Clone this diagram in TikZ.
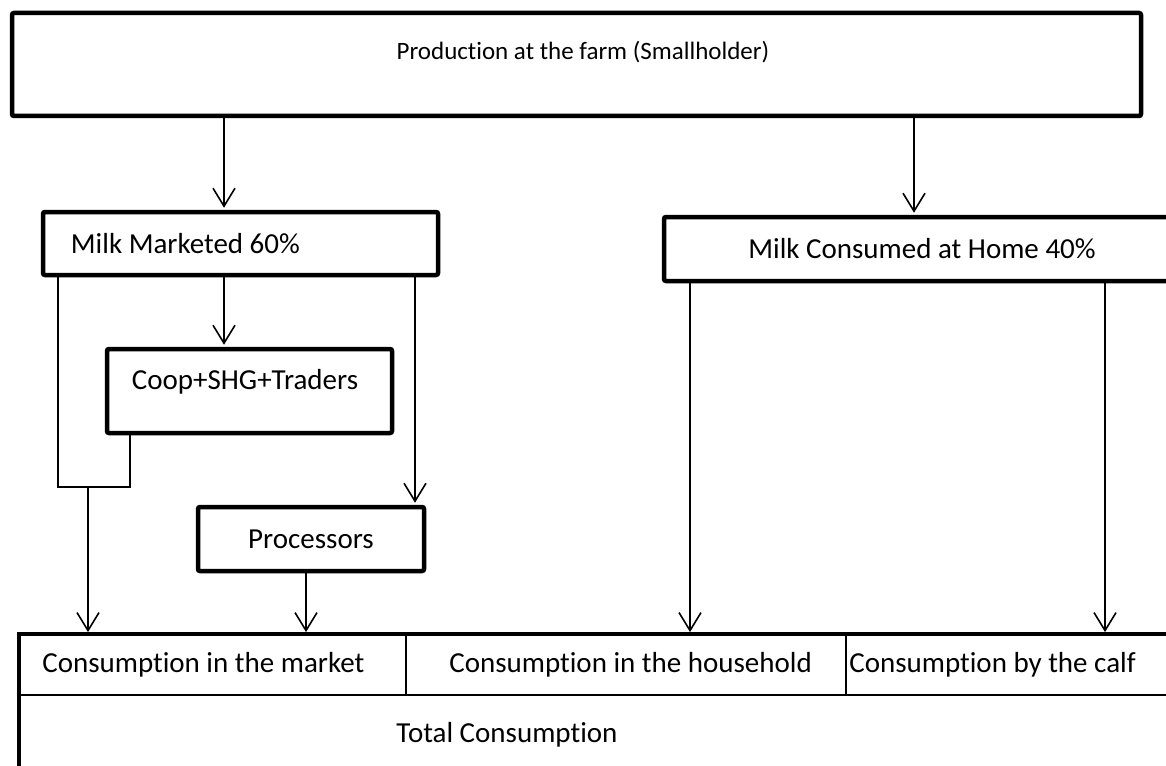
\documentclass[tikz,border=0pt]{standalone}
\usepackage{fontspec}
\setmainfont{Carlito}[Ligatures=NoCommon]
\usetikzlibrary{arrows.meta}
\tikzset{
  box/.style={draw, line width=4.5pt, rounded corners=2pt, inner sep=0pt},
  cell/.style={draw, line width=1.8pt, inner sep=0pt},
  txt/.style={inner sep=0pt},
  flow/.style={line width=1.6pt, shorten >=2pt, -{Straight Barb[length=18pt, width=22pt]}},
  link/.style={line width=1.6pt},
}
\begin{document}
\begin{tikzpicture}[x=1pt, y=-1pt, font=\fontsize{29}{35}\selectfont]
  \clip (0,0) rectangle (1166,765);
  \node[box, minimum width=1129pt, minimum height=103pt] (farm) at (576.5,64.5) {};
  \node[txt, font=\fontsize{25}{30}\selectfont] (farmlbl) at (583,52) {Production at the farm (Smallholder)};
  \node[box, minimum width=395pt, minimum height=63pt] (market) at (240.5,243.5) {};
  \node[txt, anchor=west] (marketlbl) at ([xshift=30pt]market.west) {Milk Marketed 60\%};
  \node[box, minimum width=516pt, minimum height=64pt] (home) at (922,249) {Milk Consumed at Home 40\%};
  \node[box, minimum width=285pt, minimum height=84pt] (coop) at (249.5,391) {};
  \node[txt] (cooplbl) at (245,382) {Coop+SHG+Traders};
  \node[box, minimum width=226pt, minimum height=64pt] (proc) at (311,539) {Processors};
  \node[cell, minimum width=386pt, minimum height=60pt] (cmarket) at (213,665) {};
  \node[txt, anchor=west] (cmarketlbl) at ([xshift=23pt]cmarket.west) {Consumption in the market};
  \node[cell, minimum width=440pt, minimum height=60pt] (chouse) at (626,665) {};
  \node[txt, anchor=west] (chouselbl) at ([xshift=44pt]chouse.west) {Consumption in the household};
  \node[cell, minimum width=344pt, minimum height=60pt] (ccalf) at (1018,665) {};
  \node[txt, anchor=west] (calflbl) at ([xshift=4pt]ccalf.west) {Consumption by the calf};
  \node[cell, minimum width=1170pt, minimum height=105pt] (total) at (605,747.5) {};
  \node[txt] (totallbl) at (507,735) {Total Consumption};
  \draw[line width=4.5pt] (total.south west) -- (cmarket.north west) -- (ccalf.north east);
  \coordinate (split) at (88,487);
  \draw[flow] (farm.south -| 224,0) -- (market.north -| 224,0);
  \draw[flow] (farm.south -| 914,0) -- (home.north -| 914,0);
  \draw[flow] (market.south -| 224,0) -- (coop.north -| 224,0);
  \draw[link] (market.south -| 58,0) |- (split) -| (coop.south -| 130,0);
  \draw[flow] (split) -- (cmarket.north -| split);
  \draw[flow] (market.south -| 415,0) -- (proc.north -| 415,0);
  \draw[flow] (proc.south -| 306,0) -- (cmarket.north -| 306,0);
  \draw[flow] (home.south -| 690,0) -- (chouse.north -| 690,0);
  \draw[flow] (home.south -| 1105,0) -- (ccalf.north -| 1105,0);
\end{tikzpicture}
\end{document}
